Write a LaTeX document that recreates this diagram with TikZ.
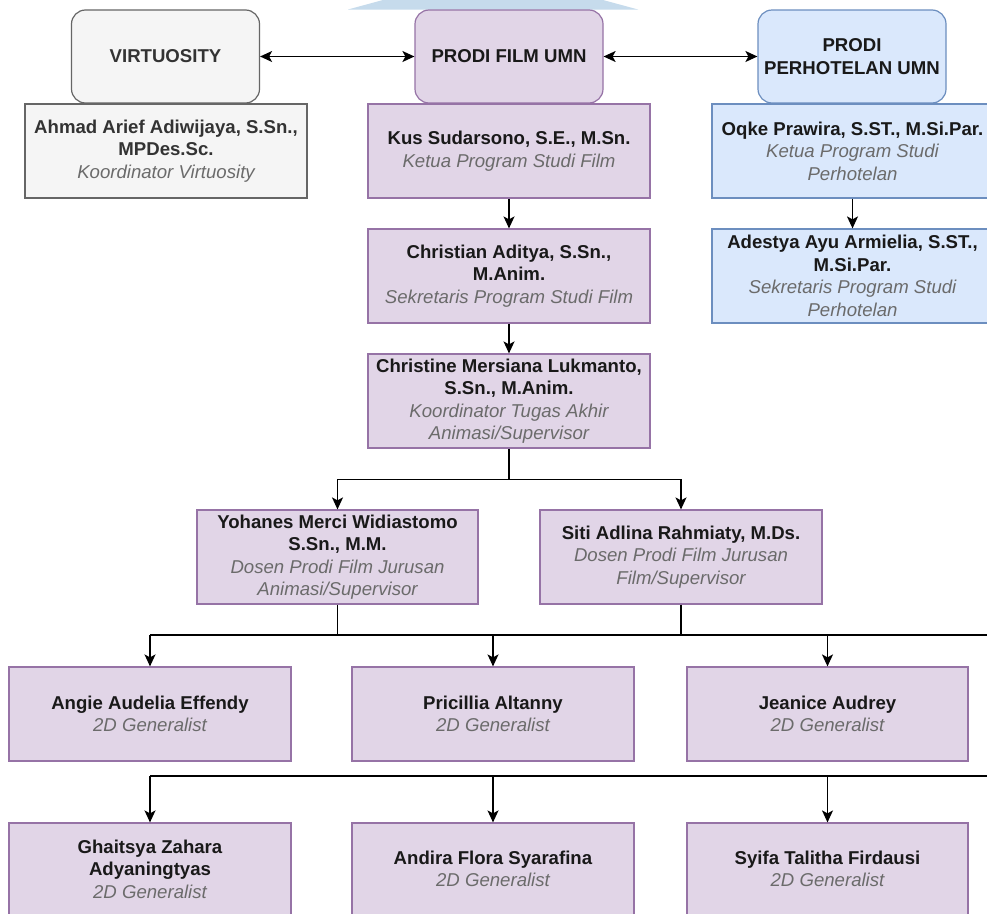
\documentclass[tikz,border=0pt]{standalone}
\usepackage{fontspec}
\setmainfont{Liberation Sans}
\usepackage{xcolor}
\usetikzlibrary{arrows.meta,positioning}
\definecolor{purplefill}{HTML}{E1D5E7}
\definecolor{purpleline}{HTML}{9673A6}
\definecolor{grayfill}{HTML}{F5F5F5}
\definecolor{grayline}{HTML}{666666}
\definecolor{graytext}{HTML}{333333}
\definecolor{bluefill}{HTML}{DAE8FC}
\definecolor{blueline}{HTML}{6C8EBF}
\definecolor{rolegray}{HTML}{6B6B6B}
\definecolor{wmblue}{HTML}{C6DBEC}
\newcommand{\role}[1]{{\color{rolegray}\itshape #1}}
\tikzset{
  box/.style={rectangle, line width=1.2pt, minimum width=282pt, minimum height=94pt, inner sep=2pt, align=center, font=\fontsize{18.6}{22.5}\selectfont},
  head/.style={box, rounded corners=14pt, minimum width=188pt, minimum height=93pt, font=\fontsize{18.6}{22.5}\selectfont\bfseries},
  pbox/.style={draw=purpleline, fill=purplefill, text=black!90},
  gbox/.style={draw=grayline, fill=grayfill, text=graytext},
  bbox/.style={draw=blueline, fill=bluefill, text=black!90},
  link/.style={draw=black, line width=1.4pt},
  arr/.style={link, -{Stealth[length=12pt, width=11pt, inset=3pt]}},
  dbl/.style={link, {Stealth[length=12pt, width=11pt, inset=3pt]}-{Stealth[length=12pt, width=11pt, inset=3pt]}},
}

\begin{document}
\begin{tikzpicture}[x=1pt, y=-1pt]
\useasboundingbox (0,0) rectangle (987,913);
\fill[white] (0,0) rectangle (987,913);
\clip (0,0) rectangle (987,913);

% logo remnant at the top
\fill[wmblue] (348,9.5) -- (383,0) -- (603,0) -- (638,9.5) -- cycle;

% top row
\node[head, gbox] (virt) at (165.5,56.5) {VIRTUOSITY};
\node[head, pbox] (prodifilm) at (509,56.5) {PRODI FILM UMN};
\node[head, bbox] (prodihotel) at (852,56.5) {PRODI\\PERHOTELAN UMN};

\node[box, gbox] (ahmad) at (166,151) {\textbf{Ahmad Arief Adiwijaya, S.Sn.,}\\\textbf{MPDes.Sc.}\\\role{Koordinator Virtuosity}};
\node[box, pbox] (kus) at (509,151) {\textbf{Kus Sudarsono, S.E., M.Sn.}\\\role{Ketua Program Studi Film}};
\node[box, bbox, minimum width=281pt] (oqke) at (852.5,151) {\textbf{Oqke Prawira, S.ST., M.Si.Par.}\\\role{Ketua Program Studi}\\\role{Perhotelan}};

\node[box, pbox] (christian) at (509,276) {\textbf{Christian Aditya, S.Sn.,}\\\textbf{M.Anim.}\\\role{Sekretaris Program Studi Film}};
\node[box, bbox, minimum width=281pt] (adestya) at (852.5,276) {\textbf{Adestya Ayu Armielia, S.ST.,}\\\textbf{M.Si.Par.}\\\role{Sekretaris Program Studi}\\\role{Perhotelan}};

\node[box, pbox] (christine) at (509,401) {\textbf{Christine Mersiana Lukmanto,}\\\textbf{S.Sn., M.Anim.}\\\role{Koordinator Tugas Akhir}\\\role{Animasi/Supervisor}};

\node[box, pbox, minimum width=281pt] (yohanes) at (337.5,557) {\textbf{Yohanes Merci Widiastomo}\\\textbf{S.Sn., M.M.}\\\role{Dosen Prodi Film Jurusan}\\\role{Animasi/Supervisor}};
\node[box, pbox] (siti) at (681,557) {\textbf{Siti Adlina Rahmiaty, M.Ds.}\\\role{Dosen Prodi Film Jurusan}\\\role{Film/Supervisor}};

% generalists
\node[box, pbox] (angie) at (150,714) {\textbf{Angie Audelia Effendy}\\\role{2D Generalist}};
\node[box, pbox] (pricillia) at (493,714) {\textbf{Pricillia Altanny}\\\role{2D Generalist}};
\node[box, pbox, minimum width=281pt] (jeanice) at (827.5,714) {\textbf{Jeanice Audrey}\\\role{2D Generalist}};

\node[box, pbox, minimum height=92pt] (ghaitsya) at (150,869) {\textbf{Ghaitsya Zahara}\\\textbf{Adyaningtyas}\\\role{2D Generalist}};
\node[box, pbox, minimum height=92pt] (andira) at (493,869) {\textbf{Andira Flora Syarafina}\\\role{2D Generalist}};
\node[box, pbox, minimum height=92pt, minimum width=281pt] (syifa) at (827.5,869) {\textbf{Syifa Talitha Firdausi}\\\role{2D Generalist}};

% connectors
\draw[dbl] (virt) -- (prodifilm);
\draw[dbl] (prodifilm) -- (prodihotel);
\draw[arr] (kus) -- (christian);
\draw[arr] (christian) -- (christine);
\draw[arr] (oqke.south -| adestya.north) -- (adestya.north);
\draw[arr] (christine.south) -- ++(0,31) coordinate (split) -| (yohanes.north);
\draw[arr] (split) -| (siti.north);

\coordinate (busA) at (995,635);
\coordinate (busB) at (995,776);
\draw[link] (yohanes.south) -- (yohanes.south |- busA);
\draw[link] (siti.south) -- (siti.south |- busA);
\draw[link] (angie.north |- busA) -- (busA);
\draw[link] (ghaitsya.north |- busB) -- (busB);
\foreach \n in {angie,pricillia,jeanice}
  \draw[arr] (\n.north |- busA) -- (\n.north);
\foreach \n in {ghaitsya,andira,syifa}
  \draw[arr] (\n.north |- busB) -- (\n.north);
\end{tikzpicture}
\end{document}
